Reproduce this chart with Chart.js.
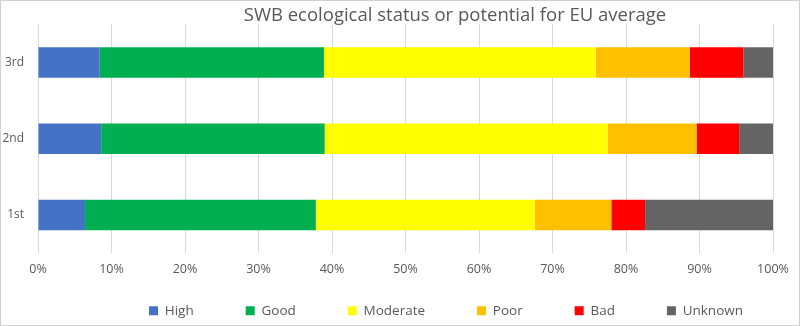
<!DOCTYPE html>
<html>
<head>
<meta charset="utf-8">
<script src="https://cdn.jsdelivr.net/npm/chart.js@4/dist/chart.umd.min.js"></script>
<style>
  html, body { margin: 0; padding: 0; background: #fff; }
  #wrap { width: 800px; height: 326px; box-sizing: border-box; border: 1px solid #d0d0d0; }
  #wrap canvas { display: block; }
</style>
</head>
<body>
<div id="wrap"><canvas id="chart" width="798" height="324"></canvas></div>
<script>
// Datos del gráfico (porcentajes)
const periods = ['3rd', '2nd', '1st'];
const high     = [8.4, 8.6, 6.4];
const good     = [30.5, 30.4, 31.4];
const moderate = [37.0, 38.5, 29.8];
const poor     = [12.8, 12.1, 10.4];
const bad      = [7.3, 5.8, 4.6];
const unknown  = [4.0, 4.6, 17.4];
const xTicks = [0, 10, 20, 30, 40, 50, 60, 70, 80, 90, 100];

const textGrey = '#595959';
const legendGap = 53;

// Mueve el título y la leyenda a su sitio después del layout
const placeBoxes = {
    id: 'placeBoxes',
    afterLayout(chart) {
        const t = chart.titleBlock;
        const dt = 454 - (t.left + t.right) / 2;
        t.left += dt; t.right += dt;
        t.top += 1.5; t.bottom += 1.5;

        const l = chart.legend;
        const dl = 445 - (l.left + l.right) / 2;
        l.left += dl; l.right += dl;
        l.top = 304 - legendGap;
        l.bottom = chart.height;
    }
};

function ds(label, data, color) {
    return { label: label, data: data, backgroundColor: color, borderWidth: 0 };
}

new Chart(document.getElementById('chart'), {
    type: 'bar',
    data: {
        labels: periods,
        datasets: [
            ds('High', high, '#4472C4'),
            ds('Good', good, '#00B050'),
            ds('Moderate', moderate, '#FFFF00'),
            ds('Poor', poor, '#FFC000'),
            ds('Bad', bad, '#FF0000'),
            ds('Unknown', unknown, '#646464')
        ]
    },
    plugins: [placeBoxes],
    options: {
        indexAxis: 'y',
        responsive: false,
        animation: false,
        barPercentage: 0.4,
        categoryPercentage: 1,
        layout: { padding: { left: 0, right: 26, top: 0, bottom: 0 } },
        scales: {
            x: {
                stacked: true,
                min: 0,
                max: 100,
                afterBuildTicks: s => { s.ticks = xTicks.map(v => ({ value: v })); },
                afterFit: s => { s.height = 71; },
                ticks: {
                    padding: 9,
                    color: textGrey,
                    font: { family: 'Open Sans', size: 12.5 },
                    callback: v => v + '%'
                },
                grid: { color: '#d9d9d9', drawTicks: false },
                border: { display: false }
            },
            y: {
                stacked: true,
                afterFit: s => { s.width = 37; },
                ticks: {
                    padding: 14,
                    color: textGrey,
                    font: { family: 'Open Sans', size: 12 }
                },
                grid: { display: false, drawTicks: false },
                border: { display: false }
            }
        },
        plugins: {
            title: {
                display: true,
                text: 'SWB ecological status or potential for EU average',
                color: textGrey,
                font: { family: 'Open Sans', size: 18.5, weight: 'normal', lineHeight: 1.1 },
                padding: { top: 3, bottom: 0 }
            },
            legend: {
                position: 'bottom',
                maxHeight: 1,
                labels: {
                    boxWidth: 9,
                    boxHeight: 9,
                    padding: 52,
                    color: textGrey,
                    font: { family: 'Open Sans', size: 13.5 }
                }
            },
            tooltip: { enabled: false }
        }
    }
});
</script>
</body>
</html>
